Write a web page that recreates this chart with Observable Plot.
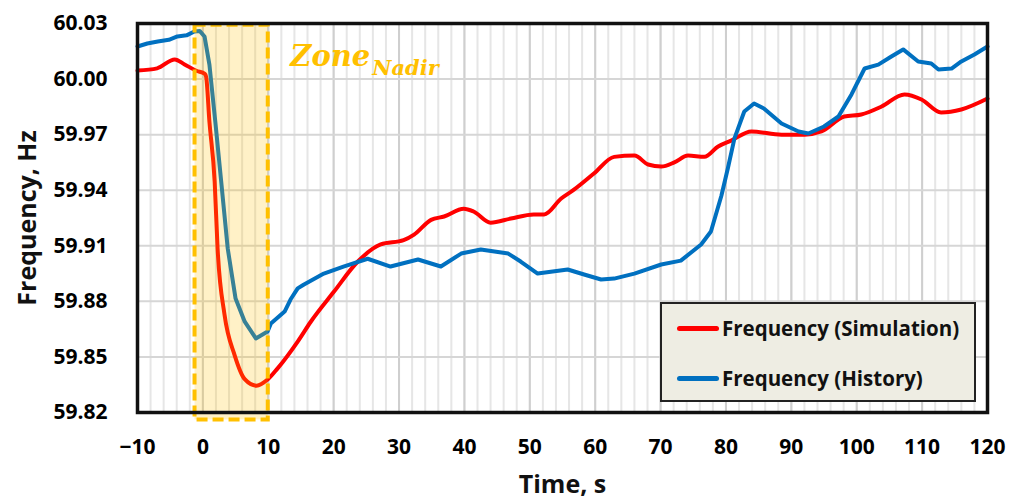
<!DOCTYPE html>
<html>
<head>
<meta charset="utf-8">
<script src="https://cdn.jsdelivr.net/npm/d3@7"></script>
<script src="https://cdn.jsdelivr.net/npm/@observablehq/plot@0.6"></script>
<style>
  body { margin: 0; background: #fff; }
  #chart { position: relative; width: 1019px; height: 501px; font-family: "Open Sans", sans-serif; }
  #chart svg [aria-label="x-axis label"] text,
  #chart svg [aria-label="y-axis label"] text { font-size: 25px; font-weight: bold; fill: #111; }
  #legend {
    position: absolute; left: 660px; top: 302px; width: 316px; height: 100px;
    box-sizing: border-box; background: #EEEDE3; border: 2px solid #222;
    font: bold 20.5px "Open Sans", sans-serif; color: #111;
  }
  .item { position: absolute; left: 15px; display: flex; align-items: center; height: 30px; white-space: nowrap; }
  .swatch { width: 42px; height: 5px; border-radius: 3px; margin-right: 3px; }
</style>
</head>
<body>
<div id="chart"></div>
<script>
// Axis ticks
const xTicks = [-10, 0, 10, 20, 30, 40, 50, 60, 70, 80, 90, 100, 110, 120];
const yTicks = [59.82, 59.85, 59.88, 59.91, 59.94, 59.97, 60.00, 60.03];

// Frequency (Simulation)
const simTime = [-10, -7, -4.3, -2.8, -1, 0.3, 0.5, 1.0, 1.8, 2.25, 3.3, 4.85, 6.4, 8.2, 9.9, 11.4, 14.5, 16.5, 20,
  23.7, 27.2, 30.7, 32.3, 34.9, 36.9, 39.9, 41.4, 44, 47.1, 50.6, 52.2, 54.8, 56.8, 59.8, 62.9, 66, 68.1, 70.1,
  72.1, 74.2, 76.7, 78.8, 80.8, 83.9, 88.5, 92, 94.6, 98.1, 100.7, 103.8, 107.3, 109.9, 112.9, 116, 120];
const simFreq = [60.0046, 60.0058, 60.0106, 60.0079, 60.0045, 60.0028, 60.0012, 59.977, 59.9447, 59.9085, 59.873,
  59.851, 59.838, 59.8345, 59.8378, 59.8437, 59.8583, 59.869, 59.885, 59.9015, 59.9107, 59.913, 59.916, 59.924,
  59.9258, 59.930, 59.9285, 59.9225, 59.9247, 59.9269, 59.9269, 59.9355, 59.9404, 59.949, 59.958, 59.9587,
  59.9539, 59.9528, 59.955, 59.9587, 59.958, 59.9636, 59.9668, 59.9717, 59.970, 59.970, 59.9717, 59.9798,
  59.9809, 59.9852, 59.9917, 59.989, 59.982, 59.9836, 59.9895];

// Frequency (History)
const histTime = [-10, -8.5, -6.9, -5.2, -3.9, -2.5, -1.3, -0.5, 0.25, 1, 1.9, 2.8, 3.8, 5, 6.4, 8.1, 9.9, 10.4,
  12.5, 13.4, 14.5, 15.4, 18.5, 21.5, 25.2, 28.7, 32.9, 36.4, 39.5, 42.5, 46.7, 48.6, 51.2, 55.8, 58.3, 60.9,
  62.9, 66, 70.1, 73.1, 76.2, 77.7, 79.3, 80.3, 81.3, 82.8, 84.3, 85.8, 88.5, 91.1, 92.6, 95, 97.2, 99.2, 101.2,
  103.3, 105.3, 107.1, 109.4, 111.4, 112.5, 114.5, 116, 118, 120];
const histFreq = [60.0176, 60.0192, 60.0203, 60.0212, 60.0230, 60.0236, 60.0257, 60.0260, 60.0230, 60.0078,
  59.977, 59.9447, 59.9085, 59.8815, 59.869, 59.860, 59.8637, 59.868, 59.8745, 59.881, 59.887, 59.889, 59.895,
  59.8988, 59.903, 59.8988, 59.9026, 59.8988, 59.9058, 59.908, 59.9058, 59.9015, 59.895, 59.8972, 59.8945,
  59.8918, 59.8923, 59.895, 59.8999, 59.902, 59.9107, 59.9177, 59.937, 59.952, 59.968, 59.9825, 59.9868,
  59.9841, 59.976, 59.9717, 59.9706, 59.9744, 59.9798, 59.9917, 60.0057, 60.0078, 60.0122, 60.016, 60.0095,
  60.0084, 60.0052, 60.0057, 60.0095, 60.0133, 60.0176];

// Nadir zone bounds (time, frequency)
const zoneTime = [-1.2, 10];
const zoneFreq = [59.816, 60.029];

const seriesNames = ["Frequency (Simulation)", "Frequency (History)"];
const seriesColors = ["#FF0000", "#0070C0"];
const zoneColor = "#FFC000";

const sim = simTime.map((t, i) => ({t, f: simFreq[i]}));
const hist = histTime.map((t, i) => ({t, f: histFreq[i]}));
const zone = [{x1: zoneTime[0], x2: zoneTime[1], y1: zoneFreq[0], y2: zoneFreq[1]}];
const minorTicks = d3.range(-10, 121, 2);

const plot = Plot.plot({
  width: 1019,
  height: 501,
  marginLeft: 137,
  marginRight: 32,
  marginTop: 23,
  marginBottom: 89,
  style: {fontFamily: "'Open Sans', sans-serif", background: "#fff"},
  x: {domain: [-10, 120]},
  y: {domain: [59.82, 60.03]},
  marks: [
    Plot.gridX(minorTicks, {stroke: "#e6e6e6", strokeOpacity: 1, strokeWidth: 2}),
    Plot.gridX(xTicks, {stroke: "#cfcfcf", strokeOpacity: 1, strokeWidth: 2}),
    Plot.gridY(yTicks, {stroke: "#d6d6d6", strokeOpacity: 1, strokeWidth: 2}),
    Plot.line(sim, {x: "t", y: "f", stroke: seriesColors[0], strokeWidth: 4, curve: "monotone-x"}),
    Plot.line(hist, {x: "t", y: "f", stroke: seriesColors[1], strokeWidth: 4}),
    Plot.rect(zone, {x1: "x1", x2: "x2", y1: "y1", y2: "y2", fill: zoneColor, fillOpacity: 0.22}),
    Plot.rect(zone, {x1: "x1", x2: "x2", y1: "y1", y2: "y2", fill: "none", stroke: zoneColor,
      strokeWidth: 4, strokeDasharray: "11,5"}),
    Plot.text(zone, {x: "x2", y: "y2", text: () => "Zone", dx: 22, dy: 31, textAnchor: "start",
      lineAnchor: "middle", fill: zoneColor, fontSize: 29, fontWeight: "bold", fontStyle: "italic",
      fontFamily: "'DejaVu Serif', serif"}),
    Plot.text(zone, {x: "x2", y: "y2", text: () => "Nadir", dx: 104, dy: 43, textAnchor: "start",
      lineAnchor: "middle", fill: zoneColor, fontSize: 21, fontWeight: "bold", fontStyle: "italic",
      fontFamily: "'DejaVu Serif', serif"}),
    Plot.frame({stroke: "#111", strokeWidth: 3.5}),
    Plot.axisX(xTicks, {tickSize: 0, tickPadding: 27, fontSize: 21, fontWeight: "bold",
      label: "Time, s", labelAnchor: "center", labelOffset: 80, labelArrow: "none"}),
    Plot.axisY(yTicks, {tickSize: 0, tickPadding: 30, fontSize: 21, fontWeight: "bold",
      tickFormat: d => d.toFixed(2), label: "Frequency, Hz", labelAnchor: "center", labelOffset: 119,
      labelArrow: "none"})
  ]
});

const chart = document.getElementById("chart");
chart.appendChild(plot);

// Legend box inside the plot area
const legend = document.createElement("div");
legend.id = "legend";
seriesNames.forEach((name, i) => {
  const item = document.createElement("div");
  item.className = "item";
  item.style.top = (i === 0 ? 9 : 59) + "px";
  const sw = document.createElement("span");
  sw.className = "swatch";
  sw.style.background = seriesColors[i];
  const label = document.createElement("span");
  label.textContent = name;
  item.appendChild(sw);
  item.appendChild(label);
  legend.appendChild(item);
});
chart.appendChild(legend);
</script>
</body>
</html>
